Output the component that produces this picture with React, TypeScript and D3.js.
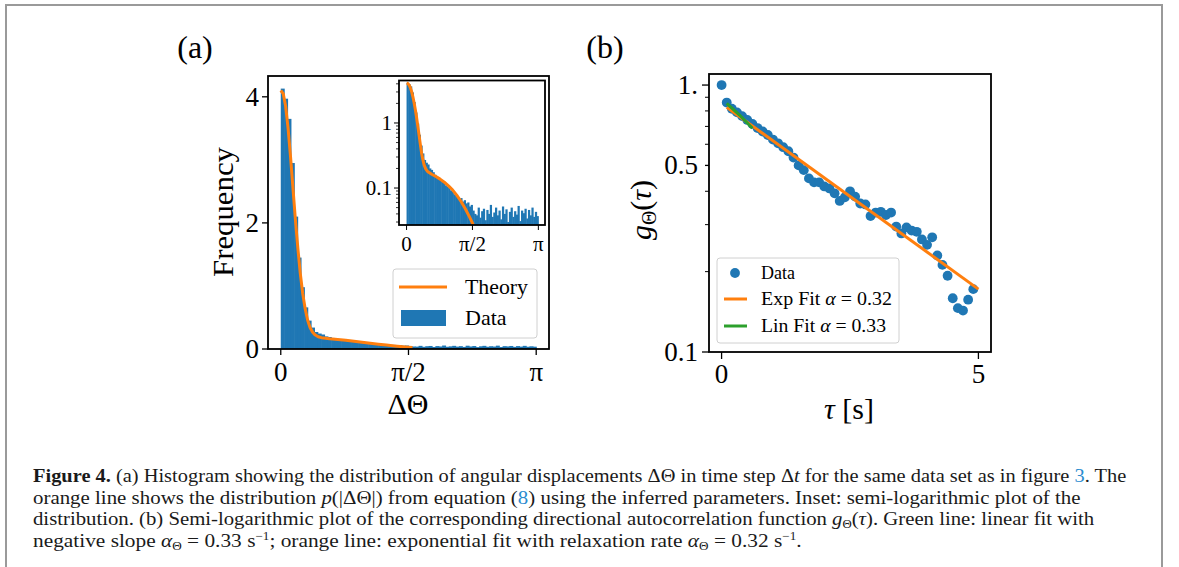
import React, { useLayoutEffect, useRef, useState } from "react";
import * as d3 from "d3";

// ---------- DATA ----------
// (a) histogram of |ΔΘ| (density), 76 equal bins on [0, π]
const histDensity = [
  4.13, 3.97, 3.65, 2.95, 2.1, 1.45, 0.98, 0.66, 0.45, 0.34,
  0.27, 0.245, 0.23, 0.2, 0.19, 0.175, 0.16, 0.15, 0.145, 0.13,
  0.125, 0.12, 0.11, 0.105, 0.1, 0.092, 0.088, 0.08, 0.078, 0.072,
  0.066, 0.07, 0.062, 0.065, 0.058, 0.06, 0.052, 0.055, 0.045, 0.04,
  0.038, 0.05, 0.035, 0.044, 0.048, 0.032, 0.046, 0.04, 0.055, 0.036,
  0.042, 0.05, 0.038, 0.045, 0.033, 0.052, 0.04, 0.047, 0.03, 0.043,
  0.05, 0.036, 0.044, 0.039, 0.053, 0.031, 0.045, 0.041, 0.048, 0.034,
  0.046, 0.038, 0.05, 0.036, 0.043, 0.037,
];
// theory curve p(|ΔΘ|)
const theoryX = [0, 0.03, 0.06, 0.09, 0.12, 0.15, 0.18, 0.21, 0.24, 0.27, 0.3, 0.33, 0.36, 0.39, 0.42, 0.46, 0.5, 0.6, 0.7, 0.8, 0.9, 1.0, 1.1, 1.2, 1.3, 1.4, 1.5, 1.57, 1.62];
const theoryY = [4.1, 4.05, 3.85, 3.5, 3.05, 2.55, 2.05, 1.6, 1.2, 0.88, 0.64, 0.46, 0.34, 0.27, 0.225, 0.195, 0.18, 0.163, 0.15, 0.137, 0.123, 0.108, 0.093, 0.077, 0.062, 0.048, 0.036, 0.029, 0.024];

// (b) autocorrelation g_Θ(τ)
const tau = [0, 0.1, 0.2, 0.3, 0.4, 0.5, 0.6, 0.7, 0.8, 0.9, 1.0, 1.1, 1.2, 1.3, 1.4, 1.5, 1.6, 1.7, 1.8, 1.9, 2.0, 2.1, 2.2, 2.3, 2.4, 2.5, 2.6, 2.7, 2.8, 2.9, 3.0, 3.1, 3.2, 3.3, 3.4, 3.5, 3.6, 3.7, 3.8, 3.9, 4.0, 4.1, 4.2, 4.3, 4.4, 4.5, 4.6, 4.7, 4.8, 4.9];
const gTheta = [1.0, 0.86, 0.815, 0.79, 0.765, 0.74, 0.715, 0.69, 0.67, 0.65, 0.625, 0.605, 0.585, 0.565, 0.535, 0.5, 0.48, 0.447, 0.432, 0.432, 0.417, 0.41, 0.393, 0.368, 0.38, 0.4, 0.382, 0.36, 0.357, 0.323, 0.333, 0.335, 0.326, 0.333, 0.295, 0.278, 0.293, 0.285, 0.282, 0.264, 0.252, 0.269, 0.23, 0.212, 0.193, 0.159, 0.146, 0.143, 0.157, 0.172];
const expFitX = [0.1, 5.0];
const expFitY = [0.825, 0.172];
const linFitX = [0.1, 0.35, 0.6];
const linFitY = [0.854, 0.772, 0.689];

const histYTicks = [0, 2, 4];
const angleTickValues = [0, Math.PI / 2, Math.PI];
const angleTickLabels = ["0", "π/2", "π"];
const insetMajorTicks = [1, 0.1];
const insetMajorLabels = ["1", "0.1"];
const gMajorTicks = [1, 0.5, 0.1];
const gMajorLabels = ["1.", "0.5", "0.1"];
const tauTicks = [0, 5];

const BLUE = "#1f77b4";
const ORANGE = "#ff7f0e";
const GREEN = "#2ca02c";
const LINK = "#2b8ccf";
const SERIF = "'Liberation Serif', 'Times New Roman', serif";

function logMinor(domain: [number, number], skip: number[]) {
  const out: number[] = [];
  for (let e = -3; e <= 1; e++) {
    for (let k = 2; k <= 9; k++) {
      const v = k * Math.pow(10, e);
      if (v >= domain[0] && v <= domain[1] && !skip.some((s) => Math.abs(s - v) < 1e-9)) out.push(v);
    }
  }
  return out;
}

// a caption line squeezed horizontally to a target width (uniform scale)
function CaptionLine({ x, y, width, children }: { x: number; y: number; width: number; children: React.ReactNode }) {
  const ref = useRef<SVGTextElement>(null);
  const [sx, setSx] = useState(1);
  useLayoutEffect(() => {
    if (ref.current) {
      const w = ref.current.getComputedTextLength();
      if (w > 0) setSx(width / w);
    }
  }, [width]);
  return (
    <text ref={ref} x={0} y={0} transform={`translate(${x},${y}) scale(${sx},1)`}>
      {children}
    </text>
  );
}

export default function App() {
  // panel (a) main
  const xA = d3.scaleLinear().domain([-0.157, 3.299]).range([268, 549]);
  const yA = d3.scaleLinear().domain([0, 4.33]).range([349, 76]);
  const bw = Math.PI / histDensity.length;
  const theoryPts = theoryX.map((x, i) => [x, theoryY[i]] as [number, number]);
  const lineA = d3.line<[number, number]>().x((d) => xA(d[0])).y((d) => yA(d[1]));

  // inset
  const insetDomain: [number, number] = [0.027, 4.5];
  const xI = d3.scaleLinear().domain([-0.18, 3.3]).range([399, 545]);
  const yI = d3.scaleLog().domain(insetDomain).range([225, 80.5]);
  const lineI = d3.line<[number, number]>().x((d) => xI(d[0])).y((d) => yI(d[1]));
  const insetMinor = logMinor(insetDomain, []);

  // panel (b)
  const gDomain: [number, number] = [0.1, 1.1];
  const xB = d3.scaleLinear().domain([-0.245, 5.245]).range([709, 991]);
  const yB = d3.scaleLog().domain(gDomain).range([352, 74]);
  const lineB = d3.line<[number, number]>().x((d) => xB(d[0])).y((d) => yB(d[1]));
  const gMinor = logMinor(gDomain, gMajorTicks);

  return (
    <div style={{ position: "absolute", left: 0, top: 0 }}>
      <svg width={1179} height={567} style={{ display: "block", background: "#fff" }} fontFamily={SERIF}>
        <rect x={0} y={0} width={1179} height={567} fill="#fff" />
        {/* page frame */}
        <rect x={6} y={5} width={1156} height={600} fill="none" stroke="#9a9a9a" strokeWidth={2} />

        {/* ---------- Panel (a) ---------- */}
        <text x={195} y={58} fontSize={32} textAnchor="middle">(a)</text>
        <g>
          {histDensity.map((v, i) => (
            <rect key={i} x={xA(i * bw)} width={xA((i + 1) * bw) - xA(i * bw) + 0.6} y={yA(v)} height={yA(0) - yA(v)} fill={BLUE} />
          ))}
          <path d={lineA(theoryPts) || ""} fill="none" stroke={ORANGE} strokeWidth={3} strokeLinejoin="round" />
          <rect x={268} y={76} width={281} height={273} fill="none" stroke="#000" strokeWidth={1.8} />
          {histYTicks.map((t) => (
            <g key={t}>
              <line x1={268} x2={262} y1={yA(t)} y2={yA(t)} stroke="#000" strokeWidth={1.3} />
              <text x={259} y={yA(t) + 9} fontSize={27} textAnchor="end">{t}</text>
            </g>
          ))}
          {angleTickValues.map((t, i) => (
            <g key={i}>
              <line x1={xA(t)} x2={xA(t)} y1={349} y2={355} stroke="#000" strokeWidth={1.3} />
              <text x={xA(t)} y={381} fontSize={27} textAnchor="middle">{angleTickLabels[i]}</text>
            </g>
          ))}
          <text transform="translate(233,212) rotate(-90)" fontSize={30} textAnchor="middle" textLength={130} lengthAdjust="spacingAndGlyphs">Frequency</text>
          <text x={408} y={414} fontSize={30} textAnchor="middle">ΔΘ</text>

          {/* legend (a) */}
          <rect x={393} y={269} width={144} height={69} rx={3} fill="#fff" fillOpacity={0.8} stroke="#d0d0d0" strokeWidth={1} />
          <line x1={399} x2={447} y1={287} y2={287} stroke={ORANGE} strokeWidth={3} />
          <text x={465} y={294} fontSize={22} textLength={63} lengthAdjust="spacingAndGlyphs">Theory</text>
          <rect x={401} y={310} width={45} height={16} fill={BLUE} />
          <text x={465} y={325} fontSize={22}>Data</text>
        </g>

        {/* inset */}
        <defs>
          <clipPath id="insetClip">
            <rect x={399} y={80.5} width={146} height={144.5} />
          </clipPath>
        </defs>
        <g>
          <rect x={399} y={80.5} width={146} height={144.5} fill="#fff" />
          <g clipPath="url(#insetClip)">
            {histDensity.map((v, i) => (
              <rect key={i} x={xI(i * bw)} width={xI((i + 1) * bw) - xI(i * bw) + 0.5} y={yI(v)} height={Math.max(0, 226 - yI(v))} fill={BLUE} />
            ))}
            <path d={lineI(theoryPts) || ""} fill="none" stroke={ORANGE} strokeWidth={3} strokeLinejoin="round" />
          </g>
          <rect x={399} y={80.5} width={146} height={144.5} fill="none" stroke="#000" strokeWidth={1.8} />
          {insetMajorTicks.map((t, i) => (
            <g key={t}>
              <line x1={399} x2={394} y1={yI(t)} y2={yI(t)} stroke="#000" strokeWidth={1} />
              <text x={392} y={yI(t) + 7} fontSize={21} textAnchor="end">{insetMajorLabels[i]}</text>
            </g>
          ))}
          {insetMinor.map((t) => (
            <line key={t} x1={399} x2={396} y1={yI(t)} y2={yI(t)} stroke="#000" strokeWidth={0.8} />
          ))}
          {angleTickValues.map((t, i) => (
            <g key={i}>
              <line x1={xI(t)} x2={xI(t)} y1={225} y2={230} stroke="#000" strokeWidth={1} />
              <text x={xI(t)} y={251} fontSize={21} textAnchor="middle">{angleTickLabels[i]}</text>
            </g>
          ))}
        </g>

        {/* ---------- Panel (b) ---------- */}
        <text x={605} y={58} fontSize={32} textAnchor="middle">(b)</text>
        <g>
          {tau.map((t, i) => (
            <circle key={i} cx={xB(t)} cy={yB(gTheta[i])} r={4.9} fill={BLUE} />
          ))}
          <path d={lineB(expFitX.map((x, i) => [x, expFitY[i]] as [number, number])) || ""} fill="none" stroke={ORANGE} strokeWidth={3} />
          <path d={lineB(linFitX.map((x, i) => [x, linFitY[i]] as [number, number])) || ""} fill="none" stroke={GREEN} strokeWidth={3} />
          <rect x={709} y={74} width={282} height={278} fill="none" stroke="#000" strokeWidth={1.8} />
          {gMajorTicks.map((t, i) => (
            <g key={t}>
              <line x1={709} x2={t === 0.5 ? 705 : 702} y1={yB(t)} y2={yB(t)} stroke="#000" strokeWidth={1.3} />
              <text x={698} y={yB(t) + 9} fontSize={27} textAnchor="end">{gMajorLabels[i]}</text>
            </g>
          ))}
          {gMinor.map((t) => (
            <line key={t} x1={709} x2={705} y1={yB(t)} y2={yB(t)} stroke="#000" strokeWidth={1} />
          ))}
          {tauTicks.map((t) => (
            <g key={t}>
              <line x1={xB(t)} x2={xB(t)} y1={352} y2={359} stroke="#000" strokeWidth={1.3} />
              <text x={xB(t)} y={383} fontSize={27} textAnchor="middle">{t}</text>
            </g>
          ))}
          <text transform="translate(651,210) rotate(-90)" fontSize={30} textAnchor="middle">
            <tspan fontStyle="italic">g</tspan>
            <tspan fontSize={20} dy={5}>Θ</tspan>
            <tspan dy={-5}>(</tspan>
            <tspan fontStyle="italic">τ</tspan>
            <tspan>)</tspan>
          </text>
          <text x={849} y={419} fontSize={30} textAnchor="middle">
            <tspan fontStyle="italic">τ</tspan>
            <tspan> [s]</tspan>
          </text>

          {/* legend (b) */}
          <rect x={717} y={258} width={182} height={85} rx={3} fill="#fff" fillOpacity={0.8} stroke="#d0d0d0" strokeWidth={1} />
          <circle cx={735} cy={273} r={4.9} fill={BLUE} />
          <text x={761} y={279} fontSize={18}>Data</text>
          <line x1={724} x2={747} y1={299} y2={299} stroke={ORANGE} strokeWidth={3} />
          <text x={761} y={305} fontSize={18} textLength={131} lengthAdjust="spacingAndGlyphs">
            Exp Fit <tspan fontStyle="italic">α</tspan> = 0.32
          </text>
          <line x1={724} x2={747} y1={326} y2={326} stroke={GREEN} strokeWidth={3} />
          <text x={761} y={332} fontSize={18} textLength={125} lengthAdjust="spacingAndGlyphs">
            Lin Fit <tspan fontStyle="italic">α</tspan> = 0.33
          </text>
        </g>

        {/* ---------- Caption ---------- */}
        <g fontSize={19.5} fill="#1a1a1a">
          <CaptionLine x={33} y={482} width={1094}>
            <tspan fontWeight="bold">Figure 4.</tspan> (a) Histogram showing the distribution of angular displacements ΔΘ in time step Δ<tspan fontStyle="italic">t</tspan> for the same data set as in figure <tspan fill={LINK}>3</tspan>. The
          </CaptionLine>
          <CaptionLine x={33} y={503.5} width={1048}>
            orange line shows the distribution  <tspan fontStyle="italic">p</tspan>(|ΔΘ|) from equation (<tspan fill={LINK}>8</tspan>) using the inferred parameters. Inset: semi-logarithmic plot of the
          </CaptionLine>
          <CaptionLine x={33} y={525} width={1062}>
            distribution. (b) Semi-logarithmic plot of the corresponding directional autocorrelation function <tspan fontStyle="italic">g</tspan><tspan fontSize={12} dy={3}>Θ</tspan><tspan dy={-3}>(</tspan><tspan fontStyle="italic">τ</tspan>). Green line: linear fit with
          </CaptionLine>
          <CaptionLine x={33} y={546.5} width={769}>
            negative slope <tspan fontStyle="italic">α</tspan><tspan fontSize={12} dy={3}>Θ</tspan><tspan dy={-3}> = 0.33 s</tspan><tspan fontSize={12} dy={-7}>−1</tspan><tspan dy={7}>; orange line: exponential fit with relaxation rate </tspan><tspan fontStyle="italic">α</tspan><tspan fontSize={12} dy={3}>Θ</tspan><tspan dy={-3}> = 0.32 s</tspan><tspan fontSize={12} dy={-7}>−1</tspan><tspan dy={7}>.</tspan>
          </CaptionLine>
        </g>
      </svg>
    </div>
  );
}
